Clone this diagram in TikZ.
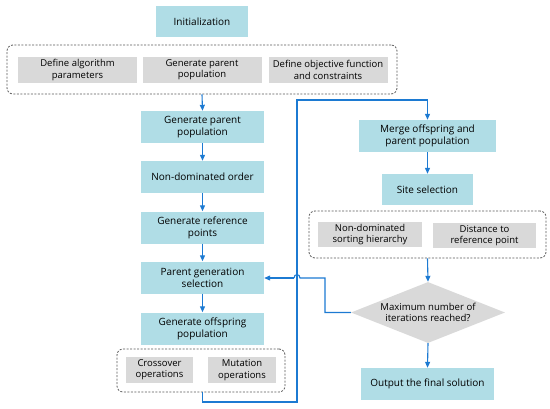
\documentclass[tikz,border=0pt]{standalone}
\usepackage{fontspec}
\setmainfont{Open Sans}
\usetikzlibrary{arrows.meta,shapes.geometric}
\definecolor{boxblue}{HTML}{B0DDE6}
\definecolor{boxgray}{HTML}{D9D9D9}
\definecolor{arrowblue}{HTML}{1C7AD2}
\definecolor{dashgray}{HTML}{595959}
\tikzset{
  bluebox/.style={fill=boxblue,draw=none,align=center,inner sep=1pt,font=\fontsize{10}{12}\selectfont},
  graybox/.style={fill=boxgray,draw=none,align=center,inner sep=1pt,font=\fontsize{9.5}{11.3}\selectfont},
  groupbox/.style={draw=dashgray,dash pattern=on 2pt off 1.5pt,line width=0.8pt,rounded corners=6pt,fill=none},
  flow/.style={draw=arrowblue,line width=1.1pt,line join=miter,-{Triangle[length=6pt,width=5pt]}},
  flowline/.style={draw=arrowblue,line width=1.1pt},
}
\begin{document}
\begin{tikzpicture}[x=1pt,y=-1pt]
\useasboundingbox (0,0) rectangle (550,408);
% top
\node[bluebox,minimum width=92pt,minimum height=31pt] (init) at (202,21.5) {Initialization};
\node[groupbox,minimum width=390pt,minimum height=49pt] (topgrp) at (202,69.5) {};
\node[graybox,minimum width=119pt,minimum height=26pt] (g1) at (77.5,70) {Define algorithm\\parameters};
\node[graybox,minimum width=119pt,minimum height=26pt] (g2) at (202,70) {Generate parent\\population};
\node[graybox,minimum width=119pt,minimum height=26pt] (g3) at (328,70) {Define objective function\\and constraints};
% left column
\node[bluebox,minimum width=123pt,minimum height=32pt] (gpp) at (202.5,127) {Generate parent\\population};
\node[bluebox,minimum width=123pt,minimum height=32pt] (ndo) at (202.5,177) {Non-dominated order};
\node[bluebox,minimum width=123pt,minimum height=32pt] (grp) at (202.5,227.5) {Generate reference\\points};
\node[bluebox,minimum width=123pt,minimum height=32pt] (pgs) at (202.5,277.5) {Parent generation\\selection};
\node[bluebox,minimum width=123pt,minimum height=32pt] (gop) at (202.5,328.5) {Generate offspring\\population};
\node[groupbox,minimum width=168pt,minimum height=43pt] (opgrp) at (201,370.5) {};
\node[graybox,minimum width=67pt,minimum height=26pt] (cross) at (159.5,370) {Crossover\\operations};
\node[graybox,minimum width=68pt,minimum height=26pt] (mut) at (242,370) {Mutation\\operations};
% right column
\node[bluebox,minimum width=137pt,minimum height=32pt] (merge) at (427.5,136) {Merge offspring and\\parent population};
\node[bluebox,minimum width=91pt,minimum height=31pt] (site) at (427.5,189.5) {Site selection};
\node[groupbox,minimum width=237pt,minimum height=47pt] (sitegrp) at (427.5,234.5) {};
\node[graybox,minimum width=104pt,minimum height=25pt] (nds) at (370,234.5) {Non-dominated\\sorting hierarchy};
\node[graybox,minimum width=103pt,minimum height=25pt] (dist) at (484.5,235.5) {Distance to\\reference point};
\node[diamond,fill=boxgray,draw=none,aspect=2.5,minimum width=154pt,minimum height=61pt,inner sep=0pt,align=center,font=\fontsize{9.6}{11.5}\selectfont] (maxit) at (428,312.5) {Maximum number of\\iterations reached?};
\node[bluebox,minimum width=133pt,minimum height=32pt] (out) at (427.5,384) {Output the final solution};
% arrows
\draw[flow] (topgrp.south) -- (gpp.north);
\draw[flow] (gpp) -- (ndo);
\draw[flow] (ndo) -- (grp);
\draw[flow] (grp) -- (pgs);
\draw[flow] (pgs) -- (gop);
\draw[flow] (merge) -- (site);
\draw[flow] (sitegrp.south) -- (maxit.north);
\draw[flow] (maxit.south) -- (out.north);
% loop from offspring to merge
\coordinate (lb) at (202.5,402);
\coordinate (lr) at (297,402);
\coordinate (lt) at (297,100);
\coordinate (mt) at (427.5,100);
\draw[flow] (opgrp.south -| lb) -- (lb) -- (lr) -- (lt) -- (mt) -- (merge.north);
% feedback
\coordinate (fb1) at (325,312.5);
\coordinate (fb2) at (325,278);
\coordinate (h1) at (300,278);
\coordinate (h2) at (294,278);
\draw[flowline] (maxit.west) -- (fb1) -- (fb2) -- (h1) .. controls (300,273.5) and (294,273.5) .. (h2);
\draw[flow] (h2) -- (pgs.east |- h2);
\end{tikzpicture}
\end{document}
